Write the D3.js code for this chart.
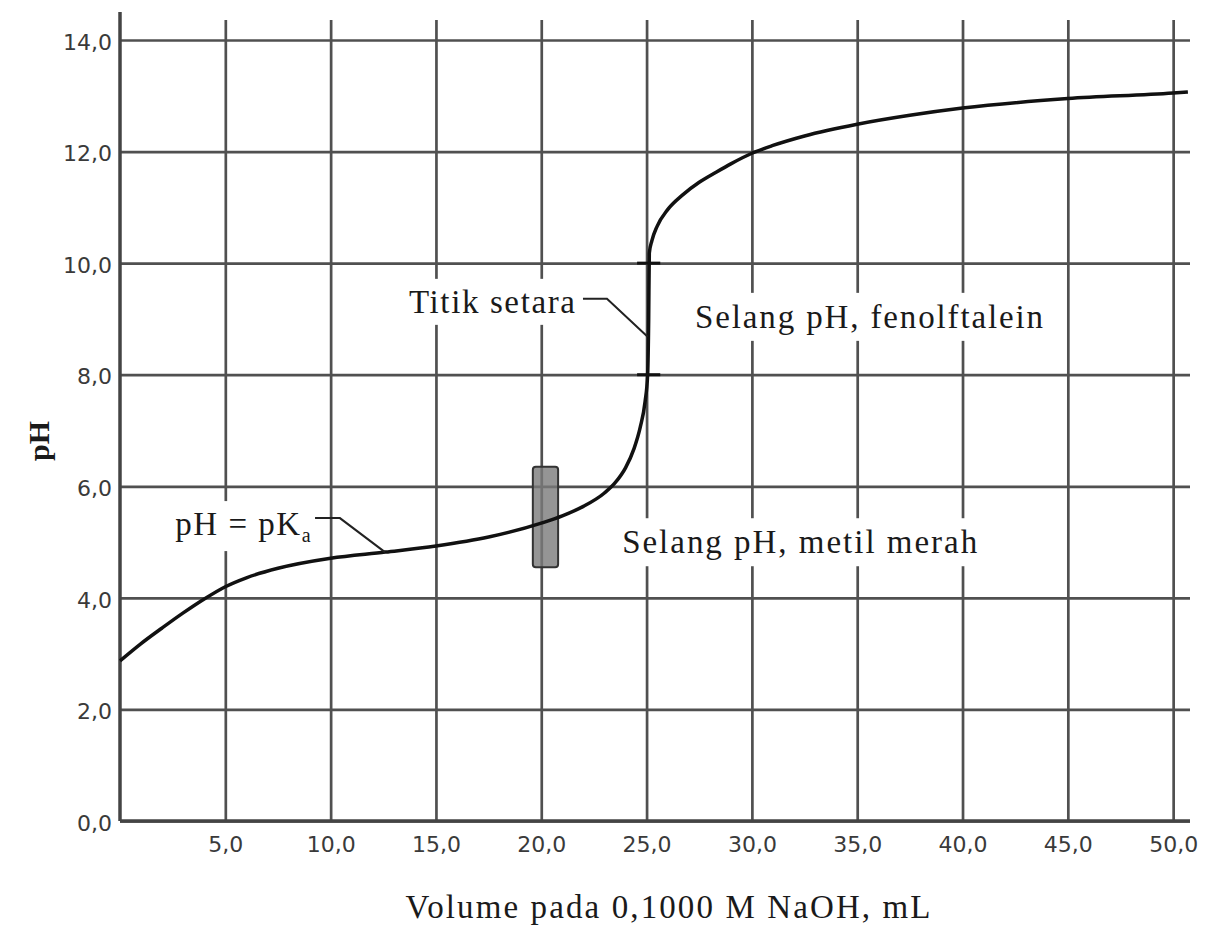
<!DOCTYPE html>
<html>
<head>
<meta charset="utf-8">
<script src="https://cdn.jsdelivr.net/npm/d3@7/dist/d3.min.js"></script>
<style>
  body { margin: 0; background: #fff; }
  .serif { font-family: "Liberation Serif", "Times New Roman", serif; fill: #1a1a1a; }
  .tick text { font-family: "DejaVu Sans", Verdana, sans-serif; font-size: 22px; fill: #3a3a3a; }
</style>
</head>
<body>
<svg id="chart" width="1205" height="925"></svg>
<script>
// titration curve (volume NaOH in mL, pH)
const volume = [0, 1, 2, 3, 4, 5, 6, 7.5, 10, 12.6, 15, 17.5, 20, 21, 22, 23, 23.5, 24, 24.4, 24.7, 24.93, 25.05, 25.1, 25.13, 25.25, 25.5, 26, 26.7, 27.5, 28.3, 29, 30, 31, 32.5, 35, 37.5, 40, 45, 50, 50.7];
const ph     = [2.87, 3.18, 3.46, 3.73, 3.98, 4.2, 4.36, 4.53, 4.71, 4.82, 4.93, 5.09, 5.34, 5.47, 5.64, 5.88, 6.06, 6.33, 6.67, 7.06, 7.52, 8.0, 9.0, 10.18, 10.4, 10.66, 10.96, 11.22, 11.45, 11.63, 11.78, 11.97, 12.11, 12.28, 12.49, 12.65, 12.78, 12.95, 13.05, 13.07];

const xTicks = [5, 10, 15, 20, 25, 30, 35, 40, 45, 50];
const yTicks = [0, 2, 4, 6, 8, 10, 12, 14];

// indicator ranges
const metilVolume = [19.6, 20.8];
const metilPh = [4.55, 6.35];
const fenolMarks = [8, 10];
const fenolVolume = [24.55, 25.65];

// annotation leader lines (volume, pH)
const pkaLeader = [[9.26, 5.43], [10.44, 5.43], [12.58, 4.82]];
const setaraLeader = [[21.98, 9.36], [23.12, 9.36], [25.05, 8.68]];
const fenolLabelAt = [27.3, 8.84];
const metilLabelAt = [23.84, 4.8];

const svg = d3.select("#chart");

const x = d3.scaleLinear().domain([0, 50.8]).range([120, 1190]);
const y = d3.scaleLinear().domain([0, 14]).range([821, 40]);

const locale = d3.formatLocale({decimal: ",", thousands: ".", grouping: [3], currency: ["", ""]});
const fmt = locale.format(".1f");

// vertical grid + x labels
const gx = svg.append("g")
  .attr("transform", `translate(0,${y(0)})`)
  .call(d3.axisBottom(x).tickValues(xTicks).tickFormat(fmt)
    .tickSize(-(y(0) - 20)).tickPadding(15));
gx.select(".domain").remove();
gx.selectAll(".tick line").attr("stroke", "#505050").attr("stroke-width", 2.7);

// horizontal grid + y labels
const gy = svg.append("g")
  .attr("transform", `translate(${x(0)},0)`)
  .call(d3.axisLeft(y).tickValues(yTicks).tickFormat(fmt)
    .tickSize(-(x.range()[1] - x(0))).tickPadding(8));
gy.select(".domain").remove();
gy.selectAll(".tick line").attr("stroke", "#505050").attr("stroke-width", 2.7);
gy.selectAll(".tick text").attr("dy", "0.42em");

// main axis lines
svg.append("line")
  .attr("x1", x(0)).attr("x2", x(0)).attr("y1", 12).attr("y2", y(0))
  .attr("stroke", "#444").attr("stroke-width", 3.5);
svg.append("line")
  .attr("x1", x(0)).attr("x2", x.range()[1]).attr("y1", y(0)).attr("y2", y(0))
  .attr("stroke", "#444").attr("stroke-width", 3.5);

// labels with white boxes that cut the grid
const labels = svg.append("g");

function boxed(sel, pad) {
  const b = sel.node().getBBox();
  labels.insert("rect", ":first-child")
    .attr("x", b.x - pad).attr("y", b.y - pad)
    .attr("width", b.width + 2 * pad).attr("height", b.height + 2 * pad)
    .attr("fill", "#fff");
}

const tSetara = labels.append("text").attr("class", "serif")
  .attr("x", x(setaraLeader[0][0]) - 8).attr("y", y(setaraLeader[0][1]) + 14)
  .attr("text-anchor", "end").attr("font-size", 33)
  .attr("textLength", 166)
  .text("Titik setara");
boxed(tSetara, 5);

const tPka = labels.append("text").attr("class", "serif")
  .attr("x", x(pkaLeader[0][0]) - 3).attr("y", y(pkaLeader[0][1]) + 17)
  .attr("text-anchor", "end").attr("font-size", 33)
  .attr("letter-spacing", 1.5);
tPka.append("tspan").text("pH = pK");
tPka.append("tspan").attr("font-size", 20).attr("dy", 7).text("a");
boxed(tPka, 5);

const tFenol = labels.append("text").attr("class", "serif")
  .attr("x", x(fenolLabelAt[0])).attr("y", y(fenolLabelAt[1]))
  .attr("font-size", 33).attr("textLength", 348)
  .text("Selang pH, fenolftalein");
boxed(tFenol, 6);

const tMetil = labels.append("text").attr("class", "serif")
  .attr("x", x(metilLabelAt[0])).attr("y", y(metilLabelAt[1]))
  .attr("font-size", 33).attr("textLength", 355)
  .text("Selang pH, metil merah");
boxed(tMetil, 6);

// metil merah range bar
svg.append("rect")
  .attr("x", x(metilVolume[0])).attr("y", y(metilPh[1]))
  .attr("width", x(metilVolume[1]) - x(metilVolume[0]))
  .attr("height", y(metilPh[0]) - y(metilPh[1]))
  .attr("rx", 3)
  .attr("fill", "#7a7a7a").attr("fill-opacity", 0.8)
  .attr("stroke", "#333").attr("stroke-width", 2);

// fenolftalein range marks
svg.selectAll(".fenol").data(fenolMarks).join("line")
  .attr("class", "fenol")
  .attr("x1", x(fenolVolume[0])).attr("x2", x(fenolVolume[1]))
  .attr("y1", d => y(d)).attr("y2", d => y(d))
  .attr("stroke", "#111").attr("stroke-width", 3);

// titration curve
const pts = volume.map((v, i) => [v, ph[i]]);
svg.append("path")
  .datum(pts)
  .attr("fill", "none")
  .attr("stroke", "#111")
  .attr("stroke-width", 3.5)
  .attr("stroke-linejoin", "round")
  .attr("d", d3.line().x(d => x(d[0])).y(d => y(d[1])).curve(d3.curveMonotoneX));

// leader lines
const leader = d3.line().x(d => x(d[0])).y(d => y(d[1]));
[pkaLeader, setaraLeader].forEach(l => {
  svg.append("path")
    .attr("d", leader(l))
    .attr("fill", "none").attr("stroke", "#222").attr("stroke-width", 2);
});

// axis titles
svg.append("text").attr("class", "serif")
  .attr("x", 668).attr("y", 918)
  .attr("text-anchor", "middle").attr("font-size", 33)
  .attr("textLength", 525)
  .text("Volume pada 0,1000 M NaOH, mL");

svg.append("text").attr("class", "serif")
  .attr("transform", "translate(49,441) rotate(-90)")
  .attr("text-anchor", "middle").attr("font-size", 30).attr("font-weight", "bold")
  .text("pH");
</script>
</body>
</html>
